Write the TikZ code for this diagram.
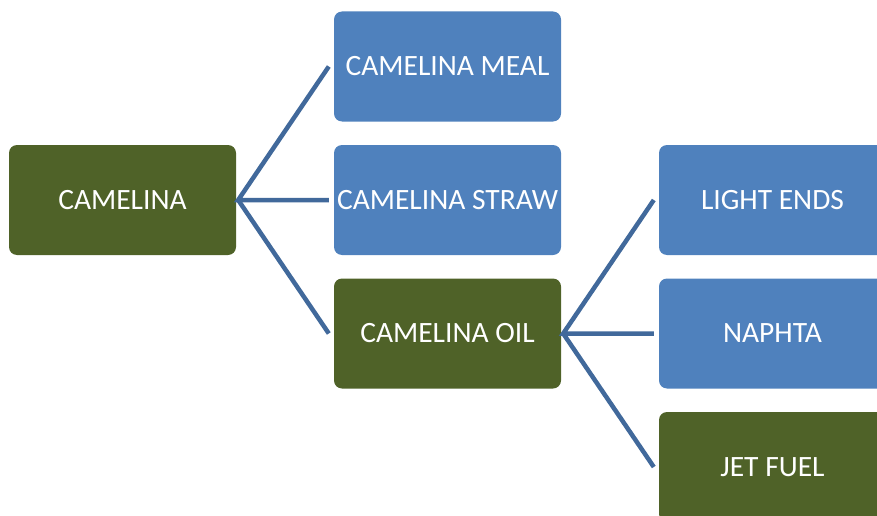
\documentclass[tikz,border=0pt]{standalone}
\usepackage{fontspec}
\setmainfont{Carlito}
\definecolor{boxgreen}{HTML}{4F6228}
\definecolor{boxblue}{HTML}{4F81BD}
\definecolor{linkblue}{HTML}{41699B}
\begin{document}
\begin{tikzpicture}[x=1pt,y=-1pt,
  box/.style={rectangle,rounded corners=8pt,minimum width=227pt,minimum height=110pt,
    inner sep=0pt,text=white,font=\fontsize{29.5}{34}\selectfont},
  gbox/.style={box,fill=boxgreen},
  bbox/.style={box,fill=boxblue},
  link/.style={draw=linkblue,line width=4.5pt}]
\useasboundingbox (0,0) rectangle (877,516);
\node[gbox] (cam) at (122.5,200) {CAMELINA};
\node[bbox] (meal) at (447.5,66.5) {CAMELINA MEAL};
\node[bbox] (straw) at (447.5,200) {CAMELINA STRAW};
\node[gbox] (oil) at (447.5,333.5) {CAMELINA OIL};
\node[bbox] (light) at (772.5,200) {LIGHT ENDS};
\node[bbox] (naph) at (772.5,333.5) {NAPHTA};
\node[gbox] (jet) at (772.5,467) {JET FUEL};
\coordinate (c0) at ([xshift=2pt]cam.east);
\coordinate (o0) at ([xshift=2pt]oil.east);
\draw[link] ([xshift=-5pt]meal.west) -- (c0) -- ([xshift=-5pt]straw.west);
\draw[link] (c0) -- ([xshift=-5pt]oil.west);
\draw[link] ([xshift=-5pt]light.west) -- (o0) -- ([xshift=-5pt]naph.west);
\draw[link] (o0) -- ([xshift=-5pt]jet.west);
\end{tikzpicture}
\end{document}
